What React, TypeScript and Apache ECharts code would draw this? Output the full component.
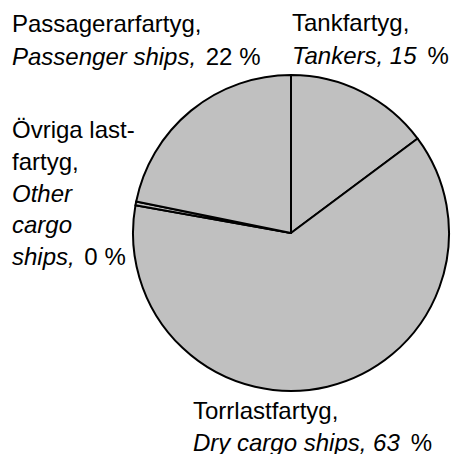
import React, { useEffect, useRef } from "react";
import * as echarts from "echarts";

const categoriesSv = ["Tankfartyg,", "Torrlastfartyg,", "Övriga last-\nfartyg,", "Passagerarfartyg,"];
const categoriesEn = ["Tankers,", "Dry cargo ships,", "Other\ncargo\nships,", "Passenger ships,"];
const shares = [14.8, 63.0, 0.4, 21.8];
const shareLabels = ["15", "63", "0", "22"];
const italicValue = [true, true, false, false];

const labelPos = [
  { x: 292, y: 6, lh: 33 },
  { x: 193, y: 394, lh: 32 },
  { x: 12, y: 114, lh: 31.7 },
  { x: 12, y: 7, lh: 33 },
];

const FONT = '"Liberation Sans", Arial, Helvetica, sans-serif';
const FS = 24;

function makeRich(lh: number) {
  return {
    n: { fontFamily: FONT, fontSize: FS, color: "#000", lineHeight: lh },
    i: { fontFamily: FONT, fontSize: FS, color: "#000", fontStyle: "italic", lineHeight: lh },
    p: { fontFamily: FONT, fontSize: FS, color: "#000", lineHeight: lh, padding: [0, 0, 0, 11] },
    q: { fontFamily: FONT, fontSize: FS, color: "#000", lineHeight: lh, padding: [0, 0, 0, 3] },
  };
}

export default function App() {
  const ref = useRef<HTMLDivElement>(null);
  useEffect(() => {
    if (!ref.current) return;
    const chart = echarts.init(ref.current, undefined, { renderer: "svg" });
    const data = shares.map((v, i) => ({
      value: v,
      name: categoriesSv[i],
      label: { rich: makeRich(labelPos[i].lh), lineHeight: labelPos[i].lh },
    }));
    chart.setOption({
      animation: false,
      backgroundColor: "#fff",
      series: [
        {
          type: "pie",
          center: [291, 233],
          radius: 158,
          startAngle: 90,
          clockwise: true,
          avoidLabelOverlap: false,
          itemStyle: { color: "#c0c0c0", borderColor: "#000", borderWidth: 2, borderJoin: "round" },
          emphasis: { disabled: true },
          labelLine: { show: false },
          label: {
            show: true,
            position: "outside",
            fontFamily: FONT,
            fontSize: FS,
            color: "#000",
            formatter: (p: any) => {
              const i = p.dataIndex;
              const sv = categoriesSv[i].split("\n").map((l) => `{n|${l}}`);
              const en = categoriesEn[i].split("\n").map((l) => `{i|${l}}`);
              const tail = italicValue[i]
                ? `{n| }{i|${shareLabels[i]}}{p|%}`
                : `{n| }{q|${shareLabels[i]} %}`;
              en[en.length - 1] += tail;
              return sv.concat(en).join("\n");
            },
          },
          labelLayout: (p: any) => {
            const pos = labelPos[p.dataIndex];
            return { x: pos.x, y: pos.y, align: "left", verticalAlign: "top", hideOverlap: false };
          },
          data,
        },
      ],
    });
    return () => chart.dispose();
  }, []);
  return <div ref={ref} style={{ position: "fixed", left: 0, top: 0, width: 453, height: 454 }} />;
}
